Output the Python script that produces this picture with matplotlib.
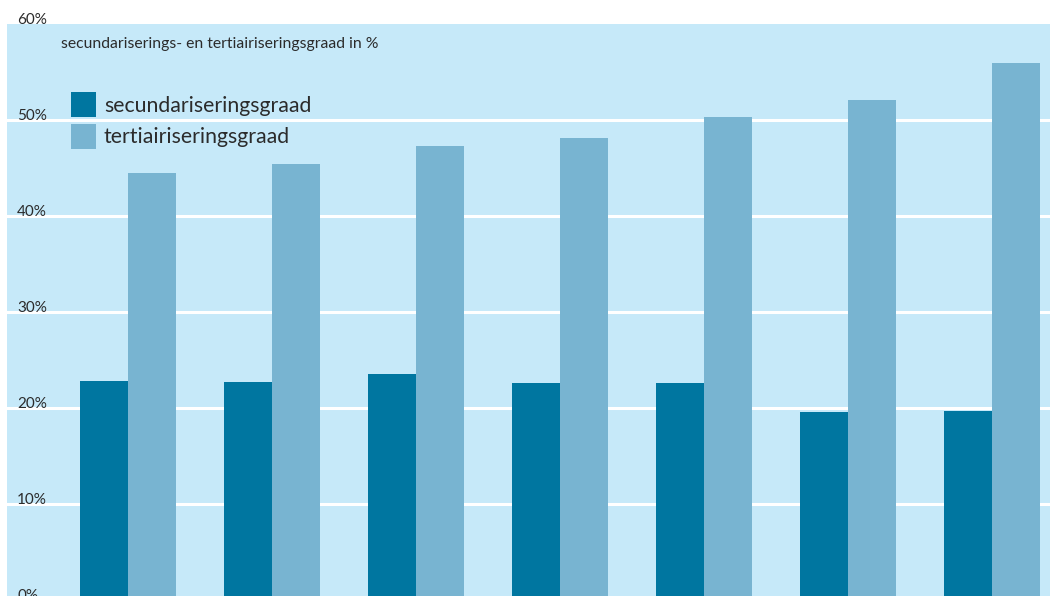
import matplotlib
matplotlib.use("Agg")
import matplotlib.pyplot as plt
from matplotlib.patches import Rectangle
import matplotlib.transforms as mtransforms
import numpy as np

plt.rcParams["font.family"] = ["Lato", "DejaVu Sans"]

# data (percent)
groups = np.arange(7)
secundair = [22.8, 22.7, 23.5, 22.6, 22.6, 19.6, 19.7]
tertiair = [44.5, 45.4, 47.3, 48.1, 50.3, 52.1, 55.9]
y_ticks = [0, 10, 20, 30, 40, 50, 60]
tick_labels = ["0%", "10%", "20%", "30%", "40%", "50%", "60%"]
series_names = ["secundariseringsgraad", "tertiairiseringsgraad"]
subtitle = "secundariserings- en tertiairiseringsgraad in %"

DARK = "#0076a0"
LIGHT = "#78b4d1"
BG = "#c6e9f9"
TXT = "#2b2b2b"

W, H = 1050, 596
fig = plt.figure(figsize=(W / 100, H / 100), dpi=100)
# plot area: left edge at 7px, top at 24px, 0% just below the picture edge
ax = fig.add_axes([7 / W, -4 / H, 1 - 7 / W, 576 / H])
ax.set_facecolor(BG)

bw = 1 / 3
ax.bar(groups - bw / 2, secundair, width=bw, color=DARK, zorder=3)
ax.bar(groups + bw / 2, tertiair, width=bw, color=LIGHT, zorder=3)

ax.set_xlim(-121 / 144, 922 / 144)
ax.set_ylim(0, 60)
for y in y_ticks[1:-1]:
    ax.axhline(y, color="white", lw=2.2, zorder=2)

for s in ax.spines.values():
    s.set_visible(False)
ax.set_xticks([])
ax.set_yticks([])

trans = mtransforms.blended_transform_factory(ax.transAxes, ax.transData)
for y, lab in zip(y_ticks, tick_labels):
    ax.text(10 / 1043, y, lab, transform=trans, ha="left", va="baseline",
            fontsize=11, color=TXT, clip_on=False, zorder=4)

ax.text(54 / 1043, 57.9, subtitle, transform=trans, ha="left", va="center",
        fontsize=11.3, color=TXT, zorder=4)

# legend: coloured squares with labels, placed in pixel coordinates
px = mtransforms.Affine2D().scale(1 / W, -1 / H).translate(0, 1) + fig.transFigure
for (top, base), col, name in zip([(92, 112), (124, 143)], [DARK, LIGHT], series_names):
    fig.patches.append(Rectangle((71, top + 25), 25, -25, transform=px,
                                 facecolor=col, edgecolor="none", zorder=5))
    fig.text(104, base, name, transform=px, ha="left", va="baseline",
             fontsize=15.3, color=TXT, zorder=5)

fig.savefig("out.png", dpi=100, facecolor="white")
